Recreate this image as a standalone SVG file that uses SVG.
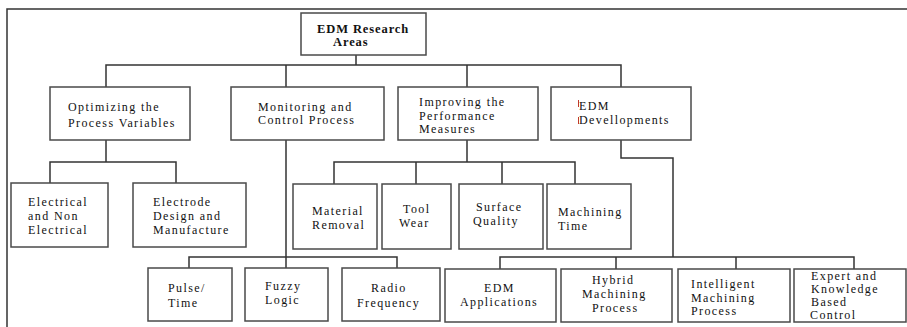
<svg xmlns="http://www.w3.org/2000/svg" width="907" height="327" viewBox="0 0 907 327">
<style>
.b{fill:#fff;stroke:#4a4a4a;stroke-width:1.5}
.c{fill:none;stroke:#333;stroke-width:1.5}
text{font-family:"Liberation Serif","Times New Roman",serif;font-size:12px;letter-spacing:1.4px;fill:#111}
.bold{font-weight:bold;font-size:12.5px;letter-spacing:0.9px}
</style>
<rect width="907" height="327" fill="#fff"/>
<path class="c" d="M7,327 V9 H907"/>
<g id="connectors">
<path class="c" d="M356,55 V65 M106,87 V65 H621 V87 M286,65 V87 M467,65 V87"/>
<path class="c" d="M106,140 V162 M50,183 V162 H176 V183"/>
<path class="c" d="M286,140 V268 M189,268 V257 H397 V268"/>
<path class="c" d="M467,140 V162 M334,184 V162 H575 V184 M416,162 V184 M502,162 V184"/>
<path class="c" d="M621,140 V158 H673 V257 M500,269 V257 H854 V269 M616,257 V269 M736,257 V269"/>
</g>
<g id="root"><rect class="b" x="301" y="13" width="125" height="42"/><text class="bold" x="317" y="32.5">EDM Research</text><text class="bold" x="333" y="46">Areas</text></g>
<g id="optimizing"><rect class="b" x="50" y="87" width="140" height="53"/><text x="68" y="111">Optimizing the</text><text x="68" y="127">Process Variables</text></g>
<g id="monitoring"><rect class="b" x="231" y="87" width="153" height="53"/><text x="258" y="110.5">Monitoring and</text><text x="258" y="124">Control Process</text></g>
<g id="improving"><rect class="b" x="398" y="87" width="140" height="53"/><text x="419" y="106">Improving the</text><text x="419" y="119.5">Performance</text><text x="419" y="133">Measures</text></g>
<g id="developments"><rect class="b" x="551" y="87" width="140" height="53"/><line x1="578.5" y1="100" x2="578.5" y2="107" stroke="#c0392b" stroke-width="1"/><line x1="578.5" y1="117" x2="578.5" y2="124" stroke="#c0392b" stroke-width="1"/><text x="579" y="109.5">EDM</text><text x="579" y="123.5">Devellopments</text></g>
<g id="electrical"><rect class="b" x="11" y="183" width="97" height="64"/><text x="28" y="206">Electrical</text><text x="28" y="220">and Non</text><text x="28" y="233.5">Electrical</text></g>
<g id="electrode"><rect class="b" x="133" y="183" width="113" height="64"/><text x="153" y="206">Electrode</text><text x="153" y="220">Design and</text><text x="153" y="233.5">Manufacture</text></g>
<g id="material"><rect class="b" x="293" y="184" width="84" height="65"/><text x="312" y="215">Material</text><text x="312" y="228.5">Removal</text></g>
<g id="tool"><rect class="b" x="382" y="184" width="69" height="65"/><text x="403" y="212.5">Tool</text><text x="399" y="227">Wear</text></g>
<g id="surface"><rect class="b" x="459" y="184" width="84" height="65"/><text x="476" y="211">Surface</text><text x="473" y="225">Quality</text></g>
<g id="machining"><rect class="b" x="547" y="184" width="84" height="65"/><text x="558" y="216">Machining</text><text x="558" y="229.5">Time</text></g>
<g id="pulse"><rect class="b" x="148" y="268" width="84" height="53"/><text x="168" y="291.5">Pulse/</text><text x="168" y="306.5">Time</text></g>
<g id="fuzzy"><rect class="b" x="245" y="268" width="83" height="53"/><text x="265" y="290">Fuzzy</text><text x="265" y="304">Logic</text></g>
<g id="radio"><rect class="b" x="342" y="268" width="98" height="53"/><text x="371" y="291.5">Radio</text><text x="357" y="306.5">Frequency</text></g>
<g id="applications"><rect class="b" x="445" y="269" width="111" height="53"/><text x="484" y="291.5">EDM</text><text x="460" y="306">Applications</text></g>
<g id="hybrid"><rect class="b" x="561" y="269" width="111" height="53"/><text x="592" y="283.5">Hybrid</text><text x="582" y="297.5">Machining</text><text x="592" y="311.5">Process</text></g>
<g id="intelligent"><rect class="b" x="678" y="269" width="112" height="53"/><text x="691" y="287.5">Intelligent</text><text x="691" y="301.5">Machining</text><text x="691" y="315">Process</text></g>
<g id="expert"><rect class="b" x="794" y="269" width="112" height="53"/><text x="811" y="280">Expert and</text><text x="811" y="293">Knowledge</text><text x="811" y="306">Based</text><text x="810" y="319">Control</text></g>
</svg>
